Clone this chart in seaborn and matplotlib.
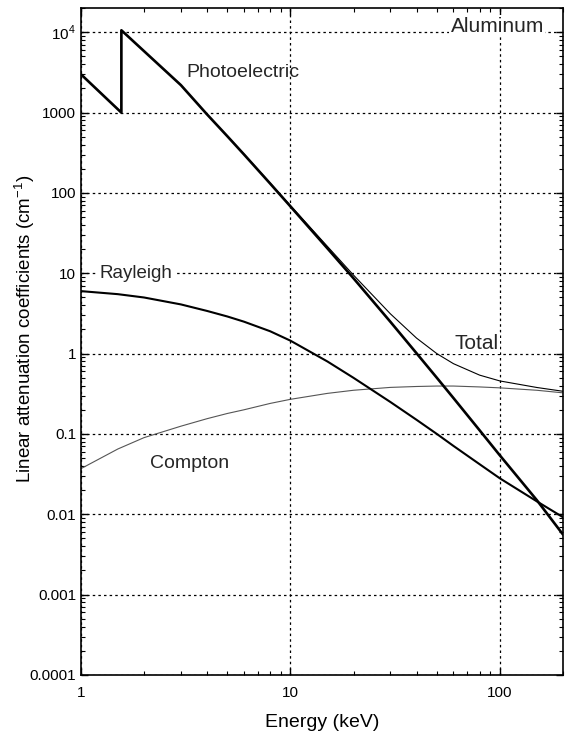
import matplotlib
matplotlib.use("Agg")
import matplotlib.pyplot as plt
import matplotlib.ticker as mticker
import numpy as np
import pandas as pd
import seaborn as sns

# Energies (keV); the Al K-edge at 1.5596 keV appears twice
energy = [1, 1.5596, 1.5596, 3, 4, 5, 6, 8, 10, 15, 20, 30, 40, 50, 60, 80, 100, 150, 200]
energy_smooth = [1, 1.5, 2, 3, 4, 5, 6, 8, 10, 15, 20, 30, 40, 50, 60, 80, 100, 150, 200]

photoelectric = [3000, 1000, 10600, 2200, 950, 508, 302, 131, 68, 20.5, 8.67,
                 2.49, 1.01, 0.50, 0.28, 0.111, 0.054, 0.0150, 0.0056]
total = [3006, 1006, 10606, 2204, 953, 511, 305, 133, 69.7, 21.7, 9.5,
         3.13, 1.56, 1.0, 0.75, 0.54, 0.457, 0.379, 0.34]
rayleigh = [6.0, 5.5, 5.0, 4.1, 3.4, 2.9, 2.5, 1.9, 1.45, 0.80, 0.50, 0.25, 0.15,
            0.10, 0.071, 0.042, 0.028, 0.0145, 0.0092]
compton = [0.037, 0.065, 0.09, 0.125, 0.155, 0.18, 0.2, 0.24, 0.27, 0.32, 0.35, 0.38,
           0.39, 0.395, 0.395, 0.385, 0.375, 0.35, 0.325]

y_ticks = [1e-4, 1e-3, 1e-2, 1e-1, 1, 10, 100, 1000, 1e4]
y_tick_labels = ["0.0001", "0.001", "0.01", "0.1", "1", "10", "100", "1000", r"10$^4$"]
x_ticks = [1, 10, 100]
x_tick_labels = ["1", "10", "100"]

sns.set_style("ticks")
plt.rcParams["font.family"] = ["Liberation Sans", "DejaVu Sans"]
plt.rcParams["mathtext.fontset"] = "custom"
plt.rcParams["mathtext.rm"] = "Liberation Sans"

fig = plt.figure(figsize=(5.66, 7.38), dpi=100)
ax = fig.add_axes([0.143, 0.0854, 0.8517, 0.9036])

df_edge = pd.DataFrame({"E": energy, "photo": photoelectric, "total": total})
df_s = pd.DataFrame({"E": energy_smooth, "rayleigh": rayleigh, "compton": compton})

sns.lineplot(data=df_s, x="E", y="compton", ax=ax, color="#555555", lw=0.8,
             estimator=None, sort=False)
sns.lineplot(data=df_edge, x="E", y="total", ax=ax, color="black", lw=0.8,
             estimator=None, sort=False)
sns.lineplot(data=df_s, x="E", y="rayleigh", ax=ax, color="black", lw=1.5,
             estimator=None, sort=False)
sns.lineplot(data=df_edge, x="E", y="photo", ax=ax, color="black", lw=1.9,
             estimator=None, sort=False)

ax.set_xscale("log")
ax.set_yscale("log")
ax.set_xlim(1, 200)
ax.set_ylim(1e-4, 2e4)

ax.set_xticks(x_ticks)
ax.set_xticklabels(x_tick_labels)
ax.set_yticks(y_ticks)
ax.set_yticklabels(y_tick_labels)
ax.xaxis.set_minor_locator(mticker.LogLocator(base=10, subs=np.arange(2, 10), numticks=20))
ax.yaxis.set_minor_locator(mticker.LogLocator(base=10, subs=np.arange(2, 10), numticks=20))
ax.xaxis.set_minor_formatter(mticker.NullFormatter())
ax.yaxis.set_minor_formatter(mticker.NullFormatter())

ax.tick_params(which="both", direction="in", top=True, right=True, color="black",
               labelsize=11, labelcolor="black")
ax.tick_params(which="major", length=5, width=1)
ax.tick_params(which="minor", length=3, width=0.8)
ax.tick_params(axis="x", pad=8)
for s in ax.spines.values():
    s.set_visible(True)
    s.set_color("black")
    s.set_linewidth(1.2)

ax.grid(True, which="major", linestyle=(0, (2, 2.5)), color="black", linewidth=0.9)
ax.set_axisbelow(True)

ax.set_xlabel("Energy (keV)", fontsize=14, labelpad=10, color="black")
ax.set_ylabel("Linear attenuation coefficients (cm$^{-1}$)", fontsize=13.5, color="black")
ax.yaxis.set_label_coords(-0.092, 0.519)

box = dict(facecolor="white", edgecolor="none", pad=1)
ax.text(3.2, 3150, "Photoelectric", fontsize=14, ha="left", va="center", zorder=5)
ax.text(97, 1.19e4, "Aluminum", fontsize=15, ha="center", va="center", bbox=box, zorder=5)
ax.text(1.23, 10, "Rayleigh", fontsize=13.5, ha="left", va="center", bbox=box, zorder=5)
ax.text(60.5, 1.35, "Total", fontsize=15, ha="left", va="center", bbox=box, zorder=5)
ax.text(2.13, 0.0435, "Compton", fontsize=14, ha="left", va="center", zorder=5)

fig.savefig("out.png", dpi=100)
